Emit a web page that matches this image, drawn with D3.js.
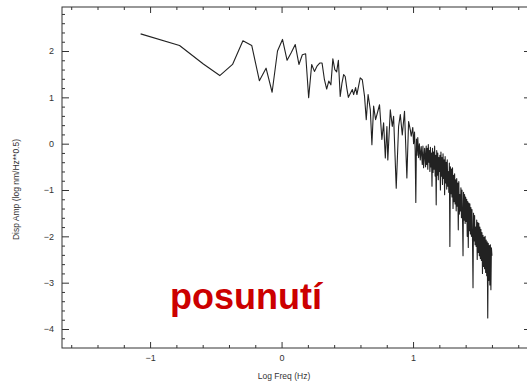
<!DOCTYPE html>
<html>
<head>
<meta charset="utf-8">
<script src="https://cdn.jsdelivr.net/npm/d3@7"></script>
<style>
  body { margin: 0; background: #fff; }
  text { font-family: "Liberation Sans", Arial, sans-serif; }
</style>
</head>
<body>
<div id="chart"></div>
<script>
// spectrum: log10 frequency (Hz) and displacement amplitude
const logFreq = [
  -1.072, -0.776, -0.595, -0.470, -0.373, -0.294, -0.227, -0.169, -0.118, -0.072,
  -0.031, 0.007, 0.042, 0.074, 0.104, 0.132, 0.158, 0.183, 0.206, 0.229,
  0.250, 0.271, 0.290, 0.308, 0.326, 0.343, 0.359, 0.375, 0.390, 0.405,
  0.419, 0.432, 0.446, 0.459, 0.472, 0.484, 0.496, 0.508, 0.538, 0.548,
  0.563, 0.573, 0.598, 0.614, 0.631, 0.644, 0.658, 0.675, 0.687, 0.700,
  0.715, 0.732, 0.745, 0.763, 0.776, 0.789, 0.801, 0.808, 0.827, 0.842,
  0.852, 0.872, 0.890, 0.903, 0.918, 0.935, 0.953, 0.966, 0.979, 0.986,
  0.998, 1.004, 1.011, 1.016, 1.021, 1.026, 1.030, 1.036, 1.042, 1.048,
  1.055, 1.062, 1.070, 1.075, 1.080, 1.088, 1.095,
  1.100, 1.104, 1.108, 1.112, 1.116, 1.120, 1.124, 1.128, 1.132, 1.136,
  1.140, 1.144, 1.148, 1.152, 1.156, 1.160, 1.164, 1.168, 1.172, 1.176,
  1.180, 1.184, 1.188, 1.192, 1.196, 1.200, 1.204, 1.208, 1.212, 1.216,
  1.220, 1.224, 1.228, 1.232, 1.236, 1.240, 1.244, 1.248, 1.252, 1.256,
  1.260, 1.264, 1.268, 1.272, 1.276, 1.280, 1.284, 1.288, 1.292, 1.296,
  1.300, 1.304, 1.308, 1.312, 1.316, 1.320, 1.324, 1.328, 1.332, 1.336,
  1.340, 1.344, 1.348, 1.352, 1.356, 1.360, 1.364, 1.368, 1.372, 1.376,
  1.380, 1.384, 1.388, 1.392, 1.396, 1.400, 1.404, 1.408, 1.412, 1.416,
  1.420, 1.424, 1.428, 1.432, 1.436, 1.440, 1.444, 1.448, 1.452, 1.456,
  1.460, 1.464, 1.468, 1.472, 1.476, 1.480, 1.484, 1.488, 1.492, 1.496,
  1.500, 1.504, 1.508, 1.512, 1.516, 1.520, 1.524, 1.528, 1.532, 1.536,
  1.540, 1.544, 1.548, 1.552, 1.556, 1.560, 1.564, 1.568, 1.572, 1.576,
  1.580, 1.584, 1.588, 1.592, 1.596, 1.600
];
const dispAmp = [
  2.37, 2.12, 1.72, 1.47, 1.71, 2.22, 2.12, 1.36, 1.63, 1.11,
  2.00, 2.25, 1.80, 1.97, 2.14, 1.71, 1.92, 1.94, 0.99, 1.71,
  1.56, 1.68, 1.74, 1.74, 1.38, 1.18, 1.35, 1.27, 1.83, 1.60,
  1.55, 1.80, 1.02, 1.30, 1.49, 1.45, 1.20, 1.00, 1.17, 1.06,
  1.21, 1.06, 1.42, 1.38, 1.02, 0.52, 1.06, 0.73, -0.02, 0.81,
  0.52, 0.70, 0.84, 0.09, 0.45, -0.31, 0.37, -0.35, 0.73, 0.37,
  0.59, -0.96, 0.37, 0.63, 0.19, 0.70, -0.74, 0.48, 0.30, 0.16,
  0.35, 0.00, 0.25, -0.15, -1.27, 0.10, -0.25, 0.13, -0.30, 0.00,
  -0.35, -0.06, -0.45, -0.05, -0.52, -0.10, -0.50,
  -0.05, -0.45, -0.10, -0.55, -0.02, -0.40, -0.15, -0.60, -0.08, -0.50,
  -0.20, -0.92, -0.10, -0.62, -0.18, -0.55, -0.05, -0.70, -0.25, -1.32,
  -0.15, -0.68, -0.20, -0.78, -0.30, -0.60, -0.25, -1.00, -0.18, -0.70,
  -0.30, -0.88, -0.22, -0.75, -0.35, -1.10, -0.28, -0.85, -0.40, -0.98,
  -0.35, -0.92, -0.60, -1.05, -0.42, -2.22, -0.50, -1.08, -0.55, -1.15,
  -0.52, -1.40, -0.68, -1.25, -0.65, -1.30, -0.78, -1.45, -0.75, -1.35,
  -0.85, -1.86, -0.82, -1.52, -1.10, -1.45, -0.95, -1.60, -1.00, -1.55,
  -2.42, -1.05, -1.65, -1.10, -1.72, -1.15, -1.68, -1.20, -2.00, -1.25,
  -2.24, -1.28, -1.88, -1.30, -1.95, -1.38, -2.00, -1.42, -2.05, -3.11,
  -1.50, -2.10, -1.55, -2.18, -1.80, -2.22, -1.65, -2.50, -1.70, -2.35,
  -1.72, -2.42, -1.80, -2.48, -1.85, -2.52, -1.92, -2.80, -1.98, -2.65,
  -2.02, -2.70, -2.00, -2.78, -2.08, -2.85, -2.12, -3.76, -2.15, -2.95,
  -2.20, -3.05, -2.18, -3.15, -2.25, -2.42
];

const xMajor = [-1, 0, 1];
const xMinor = [-1.6, -1.4, -1.2, -0.8, -0.6, -0.4, -0.2, 0.2, 0.4, 0.6, 0.8, 1.2, 1.4, 1.6, 1.8];
const yMajor = [-4, -3, -2, -1, 0, 1, 2];
const yMinor = [-4.2, -3.8, -3.6, -3.4, -3.2, -2.8, -2.6, -2.4, -2.2, -1.8, -1.6, -1.4, -1.2,
  -0.8, -0.6, -0.4, -0.2, 0.2, 0.4, 0.6, 0.8, 1.2, 1.4, 1.6, 1.8, 2.2, 2.4, 2.6, 2.8];

const width = 527, height = 384;
const margin = {left: 62, right: 531, top: 7, bottom: 348};

const svg = d3.select('#chart').append('svg')
  .attr('width', width)
  .attr('height', height);

svg.append('rect').attr('width', width).attr('height', height).attr('fill', '#fff');

const x = d3.scaleLinear().domain([-1.67, 1.897]).range([margin.left, margin.right]);
const y = d3.scaleLinear().domain([-4.41, 2.95]).range([margin.bottom, margin.top]);

function styleAxis(g) {
  g.select('.domain').remove();
  g.selectAll('line').attr('stroke', '#333');
  g.selectAll('text').attr('fill', '#333').style('font-size', '9px');
}

// bottom
svg.append('g').attr('transform', `translate(0,${margin.bottom})`)
  .call(d3.axisBottom(x).tickValues(xMinor).tickSize(-3).tickFormat(''))
  .call(styleAxis);
svg.append('g').attr('transform', `translate(0,${margin.bottom})`)
  .call(d3.axisBottom(x).tickValues(xMajor).tickSize(-6).tickPadding(7).tickFormat(d3.format('d')))
  .call(styleAxis);
// top
svg.append('g').attr('transform', `translate(0,${margin.top})`)
  .call(d3.axisTop(x).tickValues(xMinor).tickSize(-3).tickFormat(''))
  .call(styleAxis);
svg.append('g').attr('transform', `translate(0,${margin.top})`)
  .call(d3.axisTop(x).tickValues(xMajor).tickSize(-6).tickFormat(''))
  .call(styleAxis);
// left
svg.append('g').attr('transform', `translate(${margin.left},0)`)
  .call(d3.axisLeft(y).tickValues(yMinor).tickSize(-3).tickFormat(''))
  .call(styleAxis);
svg.append('g').attr('transform', `translate(${margin.left},0)`)
  .call(d3.axisLeft(y).tickValues(yMajor).tickSize(-7).tickPadding(8).tickFormat(d3.format('d')))
  .call(styleAxis);
// right
svg.append('g').attr('transform', `translate(${margin.right},0)`)
  .call(d3.axisRight(y).tickValues(yMinor).tickSize(-3).tickFormat(''))
  .call(styleAxis);
svg.append('g').attr('transform', `translate(${margin.right},0)`)
  .call(d3.axisRight(y).tickValues(yMajor).tickSize(-7).tickFormat(''))
  .call(styleAxis);

svg.append('rect')
  .attr('x', margin.left).attr('y', margin.top)
  .attr('width', margin.right - margin.left).attr('height', margin.bottom - margin.top)
  .attr('fill', 'none').attr('stroke', '#333').attr('stroke-width', 1);

const points = logFreq.map((f, i) => [f, dispAmp[i]]);

svg.append('path')
  .datum(points)
  .attr('fill', 'none')
  .attr('stroke', '#222')
  .attr('stroke-width', 1.1)
  .attr('stroke-linejoin', 'round')
  .attr('d', d3.line().x(d => x(d[0])).y(d => y(d[1])));

svg.append('text')
  .attr('x', 284)
  .attr('y', 379)
  .attr('text-anchor', 'middle')
  .attr('fill', '#333')
  .style('font-size', '8.5px')
  .text('Log Freq (Hz)');

svg.append('text')
  .attr('transform', `translate(19,${(margin.top + margin.bottom) / 2 + 12}) rotate(-90)`)
  .attr('text-anchor', 'middle')
  .attr('fill', '#333')
  .style('font-size', '8.5px')
  .text('Disp Amp (log nm/Hz**0.5)');

svg.append('text')
  .attr('x', 170)
  .attr('y', 309)
  .attr('fill', '#cc0000')
  .style('font-size', '36px')
  .style('font-weight', 'bold')
  .text('posunutí');
</script>
</body>
</html>
